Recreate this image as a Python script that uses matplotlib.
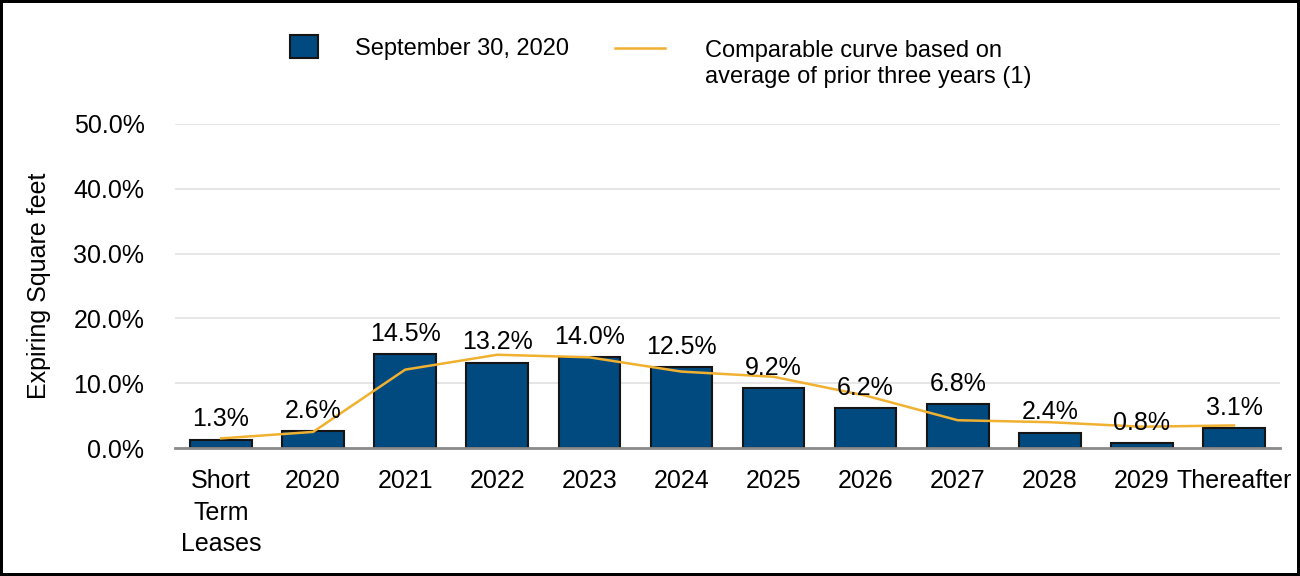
import matplotlib
matplotlib.use("Agg")
import matplotlib.pyplot as plt
from matplotlib.lines import Line2D
from matplotlib.patches import Rectangle
import matplotlib.ticker as mticker

plt.rcParams["font.family"] = ["Liberation Sans", "DejaVu Sans"]

categories = ["Short\nTerm\nLeases", "2020", "2021", "2022", "2023", "2024",
              "2025", "2026", "2027", "2028", "2029", "Thereafter"]
expiring = [1.3, 2.6, 14.5, 13.2, 14.0, 12.5, 9.2, 6.2, 6.8, 2.4, 0.8, 3.1]
comparable = [1.5, 2.5, 12.1, 14.4, 14.0, 11.8, 11.0, 8.1, 4.3, 4.0, 3.3, 3.5]
y_ticks = [0, 10, 20, 30, 40, 50]
legend_labels = ["September 30, 2020",
                 "Comparable curve based on\naverage of prior three years (1)"]

BAR_COLOR = "#014a80"
LINE_COLOR = "#f0b030"
FS = 18

fig = plt.figure(figsize=(13, 5.76), dpi=100)
fig.patch.set_edgecolor("black")
fig.patch.set_linewidth(3)
ax = fig.add_axes([0.1346, 0.222, 0.850, 0.563])

x = list(range(len(categories)))
bars = ax.bar(x, expiring, width=0.67, color=BAR_COLOR, edgecolor="#151515",
              linewidth=1.5, zorder=2)
ax.plot(x, comparable, color=LINE_COLOR, linewidth=1.8, zorder=3)
ax.bar_label(bars, labels=[f"{v:.1f}%" for v in expiring], padding=6,
             fontsize=FS, zorder=4)

ax.set_xlim(-0.5, len(categories) - 0.5)
ax.set_ylim(0, 50)
ax.set_yticks(y_ticks)
ax.yaxis.set_major_formatter(mticker.FuncFormatter(lambda v, _: f"{v:.1f}%"))
ax.set_xticks(x)
ax.set_xticklabels(categories, linespacing=1.4)
ax.tick_params(axis="both", length=0, labelsize=FS)
ax.tick_params(axis="y", pad=22)
ax.tick_params(axis="x", pad=15)
ax.grid(axis="y", color="#e2e2e2", linewidth=1.2, zorder=0)
ax.set_axisbelow(True)
for s in ["top", "right", "left"]:
    ax.spines[s].set_visible(False)
ax.spines["bottom"].set_color("#8a8a8a")
ax.spines["bottom"].set_linewidth(2)
ax.set_ylabel("Expiring Square feet", fontsize=FS, labelpad=16)

# legend drawn by hand so the handles line up with the first text line
W, H = 1300, 576
fig.add_artist(Rectangle((290 / W, 1 - 58 / H), 28 / W, 23 / H,
                         transform=fig.transFigure, facecolor=BAR_COLOR,
                         edgecolor="#151515", linewidth=1.5))
fig.text(355 / W, 1 - 49 / H, legend_labels[0], fontsize=17, va="center")
fig.add_artist(Line2D([615 / W, 665 / W], [1 - 48 / H, 1 - 48 / H],
                      transform=fig.transFigure, color=LINE_COLOR, linewidth=1.8))
fig.text(705 / W, 1 - 64 / H, legend_labels[1], fontsize=17, va="center",
         linespacing=1.27)

fig.savefig("out.png", dpi=100, edgecolor=fig.get_edgecolor())
